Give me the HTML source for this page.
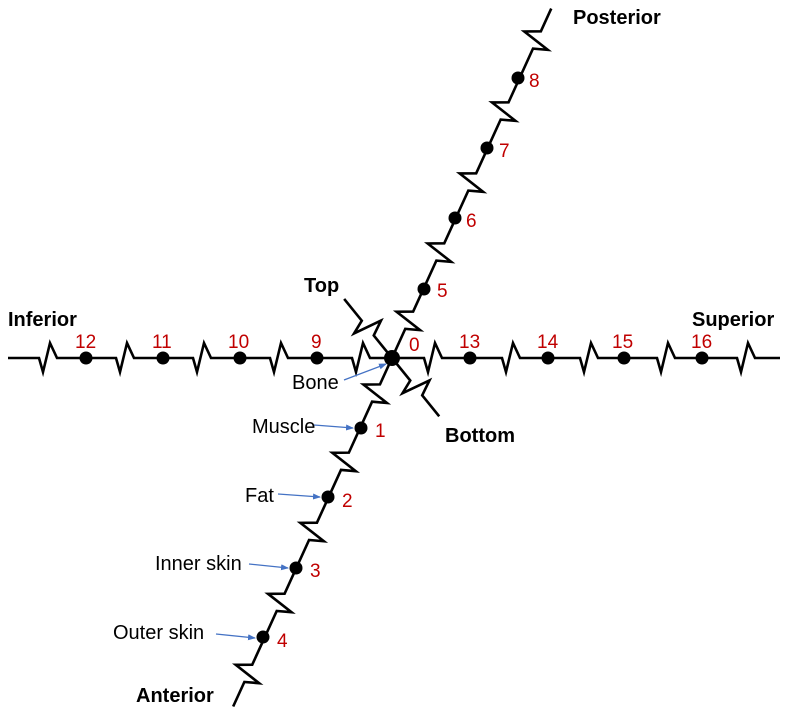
<!DOCTYPE html>
<html><head><meta charset="utf-8"><style>
html,body{margin:0;padding:0;background:#fff;}
svg{display:block;font-family:"Liberation Sans",sans-serif;}
.b{font-weight:bold;font-size:20px;fill:#000;}
.r{font-size:19px;fill:#c00000;}
.l{font-size:20px;fill:#000;}
</style></head><body>
<svg width="785" height="714" viewBox="0 0 785 714" xmlns="http://www.w3.org/2000/svg">
<defs>
<marker id="ar" markerWidth="8" markerHeight="8" refX="7" refY="4" orient="auto" markerUnits="userSpaceOnUse">
<path d="M0,1 L8,4 L0,7 Z" fill="#4472c4"/></marker>
</defs>
<g fill="none" stroke="#000" stroke-width="2.6" stroke-linejoin="miter">
<g transform="translate(392,358)">
<path d="M-384 0 L-353 0 L-349 14 L-342 -15 L-335 0 L-276 0 L-272 14 L-265 -15 L-258 0 L-199 0 L-195 14 L-188 -15 L-181 0 L-122 0 L-118 14 L-111 -15 L-104 0 L-40 0 L-36 14 L-29 -15 L-22 0 L32 0 L36 14 L43 -15 L50 0 L110 0 L114 14 L121 -15 L128 0 L188 0 L192 14 L199 -15 L206 0 L265 0 L269 14 L276 -15 L283 0 L345 0 L349 14 L356 -15 L363 0 L388 0"/>
</g>
<g transform="translate(392,358) rotate(-65.5)">
<path d="M-383 0 L-356 0 L-351 14 L-344 -15 L-337 0 L-278 0 L-273 14 L-266 -15 L-259 0 L-200 0 L-195 14 L-188 -15 L-181 0 L-123 0 L-118 14 L-111 -15 L-104 0 L-48 0 L-43 14 L-36 -15 L-29 0 L32 0 L37 14 L44 -15 L51 0 L107 0 L112 14 L119 -15 L126 0 L184 0 L189 14 L196 -15 L203 0 L262 0 L267 14 L274 -15 L281 0 L340 0 L345 14 L352 -15 L359 0 L384 0"/>
</g>
<g transform="translate(392,358) rotate(51)">
<path d="M-76 0 L-48 0 L-43 14 L-36 -15 L-29 0 L29 0 L34 14 L41 -15 L48 0 L75 0"/>
</g>
</g>
<g fill="#000">
<circle cx="392" cy="358" r="8"/>
<circle cx="86" cy="358" r="6.5"/><circle cx="163" cy="358" r="6.5"/><circle cx="240" cy="358" r="6.5"/><circle cx="317" cy="358" r="6.5"/>
<circle cx="470" cy="358" r="6.5"/><circle cx="548" cy="358" r="6.5"/><circle cx="624" cy="358" r="6.5"/><circle cx="702" cy="358" r="6.5"/>
<circle cx="361" cy="428" r="6.5"/><circle cx="328" cy="497" r="6.5"/><circle cx="296" cy="568" r="6.5"/><circle cx="263" cy="637" r="6.5"/>
<circle cx="424" cy="289" r="6.5"/><circle cx="455" cy="218" r="6.5"/><circle cx="487" cy="148" r="6.5"/><circle cx="518" cy="78" r="6.5"/>
</g>
<g stroke="#4472c4" stroke-width="1.3" fill="none">
<line x1="344" y1="380" x2="386" y2="364" marker-end="url(#ar)"/>
<line x1="314" y1="425" x2="353" y2="428" marker-end="url(#ar)"/>
<line x1="278" y1="494" x2="320" y2="497" marker-end="url(#ar)"/>
<line x1="249" y1="564" x2="288" y2="568" marker-end="url(#ar)"/>
<line x1="216" y1="634" x2="255" y2="638" marker-end="url(#ar)"/>
</g>
<text class="b" x="573" y="24">Posterior</text>
<text class="b" x="8" y="326">Inferior</text>
<text class="b" x="692" y="326">Superior</text>
<text class="b" x="304" y="292">Top</text>
<text class="b" x="445" y="442">Bottom</text>
<text class="b" x="136" y="702">Anterior</text>
<text class="r" x="75" y="348">12</text>
<text class="r" x="152" y="348">11</text>
<text class="r" x="228" y="348">10</text>
<text class="r" x="311" y="348">9</text>
<text class="r" x="409" y="351">0</text>
<text class="r" x="459" y="348">13</text>
<text class="r" x="537" y="348">14</text>
<text class="r" x="612" y="348">15</text>
<text class="r" x="691" y="348">16</text>
<text class="r" x="375" y="437">1</text>
<text class="r" x="342" y="507">2</text>
<text class="r" x="310" y="577">3</text>
<text class="r" x="277" y="647">4</text>
<text class="r" x="437" y="297">5</text>
<text class="r" x="466" y="227">6</text>
<text class="r" x="499" y="157">7</text>
<text class="r" x="529" y="87">8</text>
<text class="l" x="292" y="389">Bone</text>
<text class="l" x="252" y="433">Muscle</text>
<text class="l" x="245" y="502">Fat</text>
<text class="l" x="155" y="570">Inner skin</text>
<text class="l" x="113" y="639">Outer skin</text>
</svg>
</body></html>
